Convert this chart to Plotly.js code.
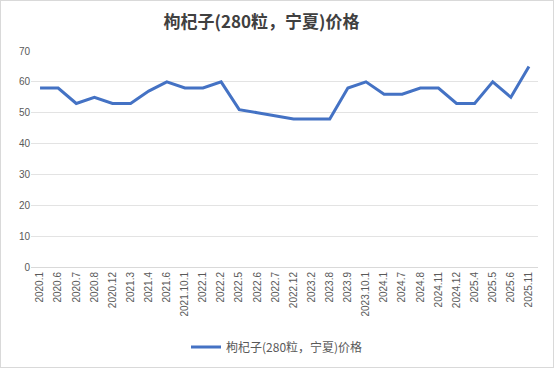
<!DOCTYPE html>
<html>
<head>
<meta charset="utf-8">
<script src="https://cdn.plot.ly/plotly-3.0.1.min.js"></script>
<style>
html,body{margin:0;padding:0;background:#fff;}
#chart{position:absolute;left:0;top:0;width:554px;height:368px;}
#frame{position:absolute;left:0;top:0;width:552px;height:366px;border:1px solid #d9d9d9;pointer-events:none;}
</style>
</head>
<body>
<div id="chart"></div>
<div id="frame"></div>
<script>
const categories = ["2020.1","2020.6","2020.7","2020.8","2020.12","2021.3","2021.4","2021.6","2021.10.1","2022.1","2022.2","2022.5","2022.6","2022.7","2022.12","2023.2","2023.8","2023.9","2023.10.1","2024.1","2024.7","2024.8","2024.11","2024.12","2025.4","2025.5","2025.6","2025.11"];
const prices = [58,58,53,55,53,53,57,60,58,58,60,51,50,49,48,48,48,58,60,56,56,58,58,53,53,60,55,65];
const seriesName = "枸杞子(280粒，宁夏)价格";
const titleText = "枸杞子(280粒，宁夏)价格";
const yTicks = [0,10,20,30,40,50,60,70];

const font = "'Noto Sans CJK SC', 'Noto Sans', sans-serif";
Plotly.newPlot('chart', [{
  x: categories,
  y: prices,
  type: 'scatter',
  mode: 'lines',
  name: seriesName,
  line: {color: '#4472C4', width: 3}
}], {
  width: 554, height: 368,
  margin: {l: 31, r: 16, t: 51, b: 101},
  paper_bgcolor: '#fff', plot_bgcolor: '#fff',
  title: {text: '<b>' + titleText + '</b>', x: 0.472, xanchor: 'center', y: 0.94, yanchor: 'middle',
          font: {family: font, size: 17, color: '#404040'}},
  xaxis: {type: 'category', range: [-0.5, 27.5], tickangle: -90, automargin: false,
          tickfont: {family: "'Liberation Sans', Arial, sans-serif", size: 10, color: '#595959'},
          showgrid: false, showline: true, linecolor: '#d9d9d9', linewidth: 1,
          ticks: '', zeroline: false, fixedrange: true},
  yaxis: {range: [0, 70], tickvals: yTicks, showgrid: true, gridcolor: '#e3e3e3', gridwidth: 1,
          zeroline: false, showline: false, ticks: '', automargin: false,
          tickfont: {family: "'Liberation Sans', Arial, sans-serif", size: 10, color: '#595959'}},
  showlegend: true,
  legend: {orientation: 'h', x: 0.5, xanchor: 'center', xref: 'container', yref: 'container',
           y: 0.057, yanchor: 'middle',
           font: {family: font, size: 12, color: '#595959'}}
}, {displayModeBar: false, staticPlot: true});
</script>
</body>
</html>
